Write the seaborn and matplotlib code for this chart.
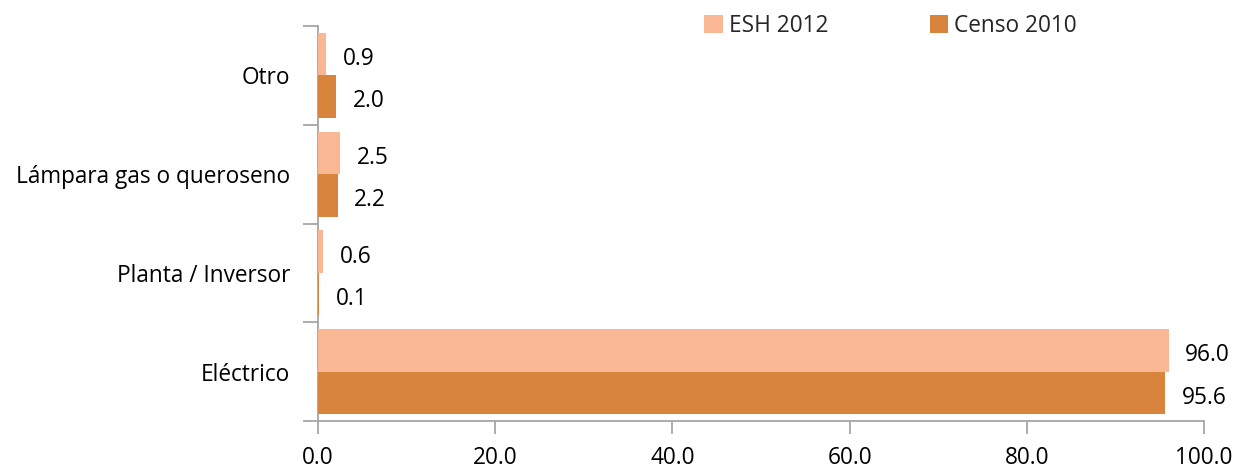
import matplotlib
matplotlib.use("Agg")
import matplotlib.pyplot as plt
import seaborn as sns
import pandas as pd
from matplotlib.ticker import FormatStrFormatter, FixedLocator

categories = ["Otro", "Lámpara gas o queroseno", "Planta / Inversor", "Eléctrico"]
series_names = ["ESH 2012", "Censo 2010"]
esh_2012 = [0.9, 2.5, 0.6, 96.0]
censo_2010 = [2.0, 2.2, 0.1, 95.6]
colors = ["#F9B794", "#D9843C"]

df = pd.DataFrame({
    "cat": categories * 2,
    "serie": [series_names[0]] * 4 + [series_names[1]] * 4,
    "val": esh_2012 + censo_2010,
})

sns.set_theme(style="white")
plt.rcParams["font.family"] = ["Open Sans", "DejaVu Sans"]
FS = 16.3

fig = plt.figure(figsize=(12.38, 4.69), dpi=100)
ax = fig.add_axes([0.2569, 0.1023, 0.9725 - 0.2569, 0.9446 - 0.1023])

sns.barplot(data=df, y="cat", x="val", hue="serie", order=categories,
            hue_order=series_names, palette=colors, orient="h",
            width=0.86, ax=ax, saturation=1, legend=True, linewidth=0, zorder=3)

for c in ax.containers:
    texts = ax.bar_label(c, fmt="%.1f", padding=12, fontsize=FS, color="black")
    for t in texts:
        t.xyann = (12, -3.5)

ax.set_xlim(0, 100)
ax.set_ylim(3.5, -0.5)
ax.set_xticks([0, 20, 40, 60, 80, 100])
ax.xaxis.set_major_formatter(FormatStrFormatter("%.1f"))
ax.set_xlabel("")
ax.set_ylabel("")

ax.yaxis.set_minor_locator(FixedLocator([-0.5, 0.5, 1.5, 2.5, 3.5]))
ax.tick_params(axis="y", which="major", length=0, pad=20, labelsize=FS, colors="black")
ax.tick_params(axis="y", which="minor", length=11, width=1.3, color="#A6A6A6", left=True)
ax.tick_params(axis="x", which="major", length=9, width=1.3, color="#A6A6A6",
               bottom=True, pad=9, labelsize=FS, labelcolor="black")

for s in ["top", "right"]:
    ax.spines[s].set_visible(False)
for s in ["left", "bottom"]:
    ax.spines[s].set_color("#A6A6A6")
    ax.spines[s].set_linewidth(1.3)

handles, labels = ax.get_legend_handles_labels()
ax.legend(handles, labels, loc="center", bbox_to_anchor=(0.7195, 0.945),
          bbox_transform=fig.transFigure, ncol=2, frameon=False,
          fontsize=FS, handlelength=0.8, handleheight=0.8, handletextpad=0.3,
          columnspacing=4.45)

fig.savefig("out.png", dpi=100)
